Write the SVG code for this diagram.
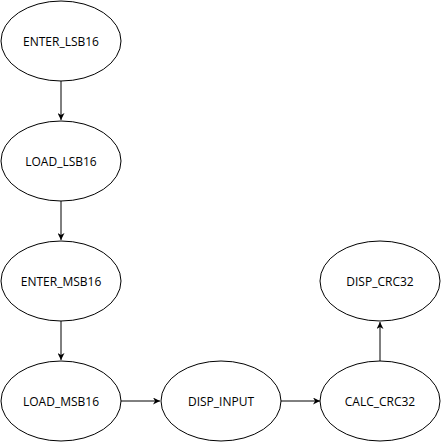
<svg xmlns="http://www.w3.org/2000/svg" width="441" height="442" viewBox="0 0 441 442">
<style>
.node ellipse{fill:#ffffff;stroke:#000000;stroke-width:1}
.node text{font-family:"Open Sans","Noto Sans",sans-serif;font-size:12px;fill:#000000;text-anchor:middle;dominant-baseline:central}
.edge{stroke:#000000;stroke-width:1;fill:none;marker-end:url(#arr)}
</style>
<defs>
<marker id="arr" viewBox="0 0 10 10" refX="10" refY="5" markerWidth="7" markerHeight="7" markerUnits="userSpaceOnUse" orient="auto">
<path d="M0,0 L10,5 L0,10 L3,5 Z" fill="#000000"/>
</marker>
</defs>
<rect width="441" height="442" fill="#ffffff"/>
<g id="connectors">
<path class="edge" d="M61,81 L61,120"/>
<path class="edge" d="M61,201 L61,240"/>
<path class="edge" d="M61,321 L61,360"/>
<path class="edge" d="M121,401 L160,401"/>
<path class="edge" d="M281,401 L320,401"/>
<path class="edge" d="M380,361 L380,322"/>
</g>
<g id="ENTER_LSB16" class="node"><ellipse cx="61" cy="41" rx="60" ry="40"/><text x="61" y="41">ENTER_LSB16</text></g>
<g id="LOAD_LSB16" class="node"><ellipse cx="61" cy="161" rx="60" ry="40"/><text x="61" y="161">LOAD_LSB16</text></g>
<g id="ENTER_MSB16" class="node"><ellipse cx="61" cy="281" rx="60" ry="40"/><text x="61" y="281">ENTER_MSB16</text></g>
<g id="LOAD_MSB16" class="node"><ellipse cx="61" cy="401" rx="60" ry="40"/><text x="61" y="401">LOAD_MSB16</text></g>
<g id="DISP_INPUT" class="node"><ellipse cx="221" cy="401" rx="60" ry="40"/><text x="221" y="401">DISP_INPUT</text></g>
<g id="CALC_CRC32" class="node"><ellipse cx="380" cy="401" rx="60" ry="40"/><text x="380" y="401">CALC_CRC32</text></g>
<g id="DISP_CRC32" class="node"><ellipse cx="380" cy="281" rx="60" ry="40"/><text x="380" y="281">DISP_CRC32</text></g>
</svg>
